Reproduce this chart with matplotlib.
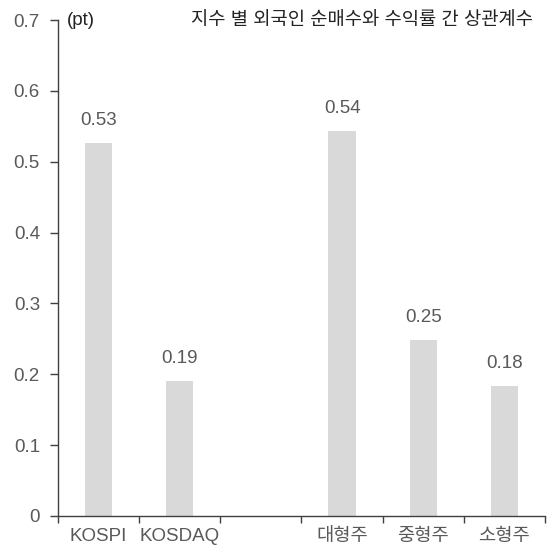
import numpy as np
import matplotlib
matplotlib.use("Agg")
import matplotlib.pyplot as plt

plt.rcParams['font.family'] = ['Liberation Sans', 'Noto Sans CJK KR', 'DejaVu Sans']

categories = ["KOSPI", "KOSDAQ", "", "대형주", "중형주", "소형주"]
values = [0.527, 0.190, np.nan, 0.544, 0.249, 0.184]
yticks = [0, 0.1, 0.2, 0.3, 0.4, 0.5, 0.6, 0.7]
ytick_labels = ["0", "0.1", "0.2", "0.3", "0.4", "0.5", "0.6", "0.7"]
title = "지수 별 외국인 순매수와 수익률 간 상관계수"
unit = "(pt)"

grey_text = "#595959"
bar_color = "#d9d9d9"
axis_color = "#404040"
fs = 13.5

fig = plt.figure(figsize=(5.48, 5.47), dpi=100)
ax = fig.add_axes([0.1058, 0.0567, 0.8887, 0.9067])

x = np.arange(len(categories))
ax.bar(x, values, width=0.335, color=bar_color, zorder=2)

for xi, v in zip(x, values):
    if np.isnan(v):
        continue
    ax.annotate(f"{v:.2f}", (xi, v), xytext=(0, 10), textcoords="offset points",
                ha="center", va="bottom", fontsize=fs, color=grey_text)

ax.set_xlim(-0.5, len(categories) - 0.5)
ax.set_ylim(0, 0.7)
ax.set_yticks(yticks)
ax.set_yticklabels(ytick_labels)

ax.set_xticks(x)
ax.set_xticklabels(categories)
ax.set_xticks(np.arange(-0.5, len(categories)), minor=True)
ax.tick_params(axis="x", which="major", length=0, pad=9, labelsize=fs, labelcolor=grey_text)
ax.tick_params(axis="x", which="minor", length=5, width=1, color=axis_color, direction="out")
ax.tick_params(axis="y", which="major", length=6, width=1, color=axis_color, pad=7,
               labelsize=fs, labelcolor=grey_text, direction="out")

for side in ("top", "right"):
    ax.spines[side].set_visible(False)
for side in ("left", "bottom"):
    ax.spines[side].set_color(axis_color)
    ax.spines[side].set_linewidth(1)

ax.text(0.018, 1.0, unit, transform=ax.transAxes, ha="left", va="center",
        fontsize=fs, color="#222222")
ax.text(0.976, 1.0, title, transform=ax.transAxes, ha="right", va="center",
        fontsize=fs, color="#222222")

fig.savefig("out.png", dpi=100)
